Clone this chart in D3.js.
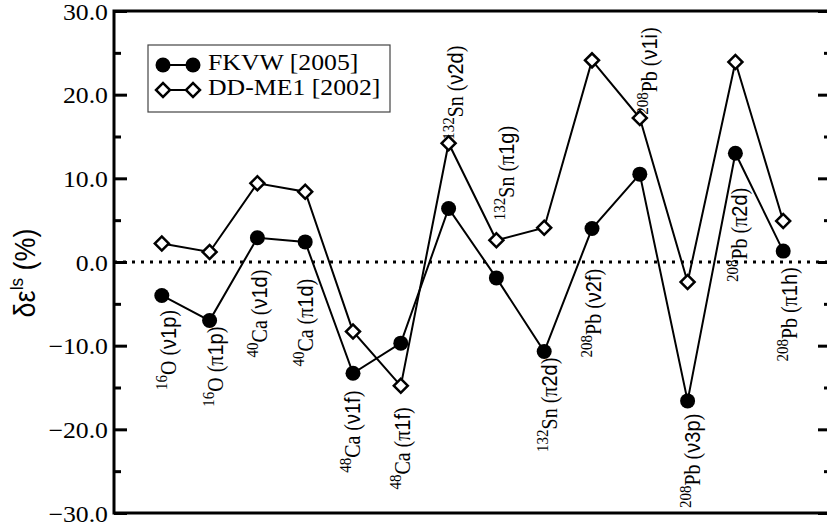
<!DOCTYPE html>
<html><head><meta charset="utf-8">
<script src="https://cdn.jsdelivr.net/npm/d3@7"></script>
<style>
body{margin:0;background:#fff}
.serif{font-family:"Liberation Serif","Times New Roman",Times,serif}
.sans{font-family:"Liberation Sans",Arial,Helvetica,sans-serif}
</style>
</head><body><svg id="chart" width="827" height="530"></svg>
<script>
// Spin-orbit splitting deviations per single-particle level
const massNumbers = ["16","16","40","40","48","48","132","132","132","208","208","208","208","208"];
const elements = ["O","O","Ca","Ca","Ca","Ca","Sn","Sn","Sn","Pb","Pb","Pb","Pb","Pb"];
const orbitals = ["ν1p","π1p","ν1d","π1d","ν1f","π1f","ν2d","π1g","π2d","ν2f","ν1i","ν3p","π2d","π1h"];
const fkvw = [-4.0,-7.0,2.9,2.4,-13.3,-9.7,6.4,-1.9,-10.7,4.0,10.5,-16.6,13.0,1.3];
const ddme1 = [2.2,1.2,9.4,8.4,-8.3,-14.8,14.2,2.6,4.1,24.1,17.2,-2.4,23.9,4.9];
const seriesNames = ["FKVW [2005]","DD-ME1 [2002]"];
const yMajorTicks = [-30,-20,-10,0,10,20,30];
const yMinorTicks = [-25,-15,-5,5,15,25];

// where each level label starts (value units) and its sideways nudge (px)
const labelStart = [-15.3,-17.3,-11.4,-12.5,-25.2,-27.2,14.6,5.0,-22.7,-11.4,17.6,-29.4,-2.4,-11.9];
const labelDx = [14,13,10,8,7,9,14,18,13,9,17,12,12,14];

const STRETCH = "scale(1.12,1)";

const svg = d3.select("#chart");
const x = d3.scaleLinear().domain([-1, 14]).range([114, 831]);
const y = d3.scaleLinear().domain([-30, 30]).range([513, 11]);
const idx = d3.range(orbitals.length);

// zero reference line
svg.append("line")
  .attr("x1", x(-1)).attr("x2", x(14)).attr("y1", y(0)).attr("y2", y(0))
  .attr("stroke", "#000").attr("stroke-width", 3).attr("stroke-dasharray", "3,6");

// inward ticks on left and right axes
function ticks(axisGen, xpos, values, size) {
  svg.append("g").attr("transform", `translate(${xpos},0)`)
    .call(axisGen(y).tickValues(values).tickSize(size).tickFormat(""))
    .call(g => g.select(".domain").remove())
    .call(g => g.selectAll("line").attr("stroke", "#000").attr("stroke-width", 3));
}
ticks(d3.axisRight, x(-1), yMajorTicks, 13);
ticks(d3.axisRight, x(-1), yMinorTicks, 7);
ticks(d3.axisLeft, x(14), yMajorTicks, 13);
ticks(d3.axisLeft, x(14), yMinorTicks, 7);

// frame
svg.append("rect")
  .attr("x", x(-1)).attr("y", y(30))
  .attr("width", x(14) - x(-1)).attr("height", y(-30) - y(30))
  .attr("fill", "none").attr("stroke", "#000").attr("stroke-width", 3);

// y tick labels
svg.append("g").selectAll("g").data(yMajorTicks).join("g")
  .attr("transform", d => `translate(108,${y(d) + 1})`)
  .append("text")
  .attr("class", "serif")
  .attr("transform", STRETCH)
  .attr("text-anchor", "end").attr("dy", "0.33em")
  .style("font-size", "23px")
  .text(d => d3.format(".1f")(d));

// y axis title
const yt = svg.append("text")
  .attr("class", "sans")
  .attr("transform", `translate(35,273) rotate(-90) scale(1,1.1)`)
  .attr("text-anchor", "middle")
  .style("font-size", "27px");
yt.append("tspan").text("δε");
yt.append("tspan").style("font-size", "17px").attr("dy", -11).text("ls");
yt.append("tspan").attr("dy", 11).text(" (%)");

// series lines
const line = d3.line().x((d, i) => x(i)).y(d => y(d));
[ddme1, fkvw].forEach(s => {
  svg.append("path").attr("d", line(s))
    .attr("fill", "none").attr("stroke", "#000").attr("stroke-width", 2);
});

// markers
const diamond = d3.symbol(d3.symbolSquare, 98);
svg.append("g").selectAll("path").data(ddme1).join("path")
  .attr("d", diamond)
  .attr("transform", (d, i) => `translate(${x(i)},${y(d)}) rotate(45)`)
  .attr("fill", "#fff").attr("stroke", "#000").attr("stroke-width", 2.5);
svg.append("g").selectAll("circle").data(fkvw).join("circle")
  .attr("cx", (d, i) => x(i)).attr("cy", d => y(d)).attr("r", 7.5)
  .attr("fill", "#000");

// level labels, reading upward
idx.forEach(i => {
  const t = svg.append("text")
    .attr("class", "serif")
    .attr("transform", `translate(${x(i) + labelDx[i]},${y(labelStart[i])}) rotate(-90) scale(1,1.12)`)
    .style("font-size", "20px");
  t.append("tspan").style("font-size", "15px").attr("dy", -8).text(massNumbers[i]);
  t.append("tspan").attr("dy", 8).text(elements[i]);
  t.append("tspan").text(" (");
  const greek = orbitals[i][0];
  t.append("tspan").attr("class", greek === "π" ? "serif" : "sans").text(greek);
  t.append("tspan").attr("class", "sans").text(orbitals[i].slice(1));
  t.append("tspan").text(")");
});

// legend
const lg = svg.append("g");
lg.append("rect").attr("x", 148).attr("y", 45).attr("width", 242).attr("height", 67)
  .attr("fill", "#fff").attr("stroke", "#444").attr("stroke-width", 1.2);
[0, 1].forEach(k => {
  const cy = 65 + k * 25;
  lg.append("line").attr("x1", 163).attr("x2", 193).attr("y1", cy).attr("y2", cy)
    .attr("stroke", "#000").attr("stroke-width", 2);
  [163, 193].forEach(cx => {
    if (k === 0) {
      lg.append("circle").attr("cx", cx).attr("cy", cy).attr("r", 7.5).attr("fill", "#000");
    } else {
      lg.append("path").attr("d", diamond)
        .attr("transform", `translate(${cx},${cy}) rotate(45)`)
        .attr("fill", "#fff").attr("stroke", "#000").attr("stroke-width", 2.5);
    }
  });
  lg.append("g").attr("transform", `translate(208,${cy + 5})`)
    .append("text").attr("class", "serif").attr("transform", STRETCH)
    .style("font-size", "23px")
    .text(seriesNames[k]);
});
</script>
</body></html>
